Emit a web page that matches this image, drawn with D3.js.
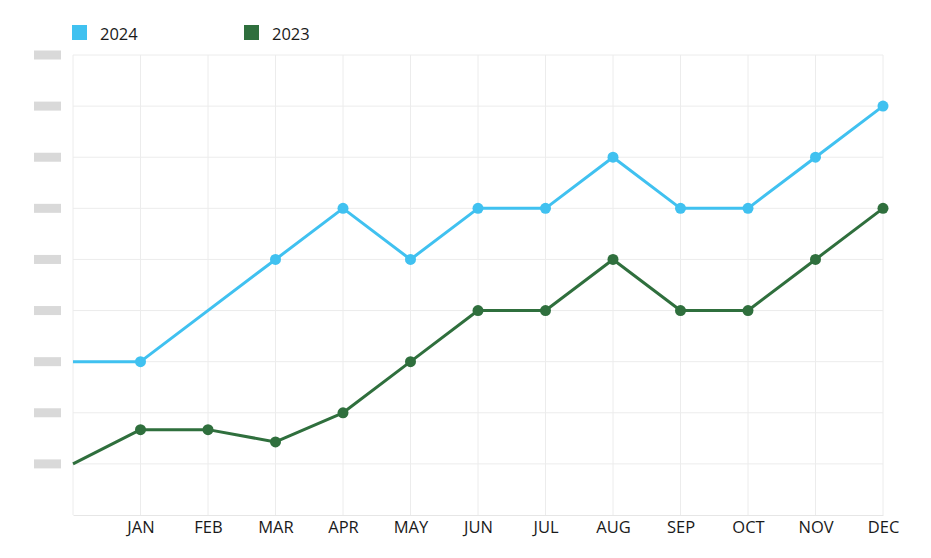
<!DOCTYPE html>
<html>
<head>
<meta charset="utf-8">
<script src="https://cdn.jsdelivr.net/npm/d3@7"></script>
<style>
body{margin:0;background:#fff;}
text{font-family:"Open Sans","Noto Sans",sans-serif;fill:#1a1a1a;}
</style>
</head>
<body>
<svg id="graphique" width="931" height="558"></svg>
<script>
// categories: first slot is an unlabeled start point
var mois = ["", "JAN", "FEB", "MAR", "APR", "MAY", "JUN", "JUL", "AUG", "SEP", "OCT", "NOV", "DEC"];
var series2024 = [3, 3, null, 5, 6, 5, 6, 6, 7, 6, 6, 7, 8];
var series2023 = [1, 1.67, 1.67, 1.43, 2, 3, 4, 4, 5, 4, 4, 5, 6];
var yTicks = [1, 2, 3, 4, 5, 6, 7, 8, 9];
var legendeNoms = ["2024", "2023"];
var couleurs = ["#40c1f0", "#2f6f3d"];

var graphique = d3.select("#graphique");
var MARGINS = {top: 55, right: 48, bottom: 43, left: 73};
var WIDTH = 931, HEIGHT = 558;

var xScale = d3.scalePoint().domain(d3.range(mois.length)).range([MARGINS.left, WIDTH - MARGINS.right]);
var yScale = d3.scaleLinear().domain([0, 9]).range([HEIGHT - MARGINS.bottom, MARGINS.top]);

// grille horizontale
graphique.append("g").selectAll("line").data(yTicks).join("line")
	.attr("x1", MARGINS.left).attr("x2", WIDTH - MARGINS.right)
	.attr("y1", function(d){ return yScale(d); })
	.attr("y2", function(d){ return yScale(d); })
	.attr("stroke", "#ececec").attr("stroke-width", 1);

// grille verticale
graphique.append("g").selectAll("line").data(d3.range(mois.length)).join("line")
	.attr("x1", function(d){ return xScale(d); })
	.attr("x2", function(d){ return xScale(d); })
	.attr("y1", yScale(9)).attr("y2", yScale(0))
	.attr("stroke", "#ececec").attr("stroke-width", 1);

// axe du bas
var xAxis = d3.axisBottom(xScale).tickSize(0).tickPadding(6)
	.tickFormat(function(d){ return mois[d]; });
var gx = graphique.append("g")
	.attr("transform", "translate(0," + yScale(0) + ")")
	.call(xAxis);
gx.select(".domain").attr("stroke", "#e6e6e6");
gx.selectAll("text").style("font-size", "16.5px").attr("fill", "#1a1a1a")
	.style("font-family", "'Open Sans','Noto Sans',sans-serif");

// tirets gris a gauche (libelles masques)
graphique.append("g").selectAll("rect").data(yTicks).join("rect")
	.attr("x", 34).attr("width", 27)
	.attr("y", function(d){ return yScale(d) - 4.5; })
	.attr("height", 9)
	.attr("fill", "#d9d9d9");

// courbes
var toutes = [series2024, series2023];
toutes.forEach(function(serie, k){
	var points = [];
	for(var i = 0; i < serie.length; i++){
		if(serie[i] !== null){
			points.push({idx: i, val: serie[i]});
		}
	}
	var line = d3.line()
		.x(function(d){ return xScale(d.idx); })
		.y(function(d){ return yScale(d.val); });

	graphique.append("path")
		.attr("d", line(points))
		.attr("stroke", couleurs[k])
		.attr("stroke-width", 3)
		.attr("stroke-linejoin", "round")
		.attr("fill", "none");

	graphique.append("g").selectAll("circle")
		.data(points.filter(function(d){ return d.idx > 0; }))
		.join("circle")
		.attr("cx", function(d){ return xScale(d.idx); })
		.attr("cy", function(d){ return yScale(d.val); })
		.attr("r", 5.5)
		.attr("fill", couleurs[k]);
});

// legende
var legX = [72, 244];
legendeNoms.forEach(function(nom, k){
	graphique.append("rect")
		.attr("x", legX[k]).attr("y", 25)
		.attr("width", 15).attr("height", 15)
		.attr("fill", couleurs[k]);
	graphique.append("text")
		.attr("x", legX[k] + 28).attr("y", 39.5)
		.style("font-size", "16.5px")
		.text(nom);
});
</script>
</body>
</html>
